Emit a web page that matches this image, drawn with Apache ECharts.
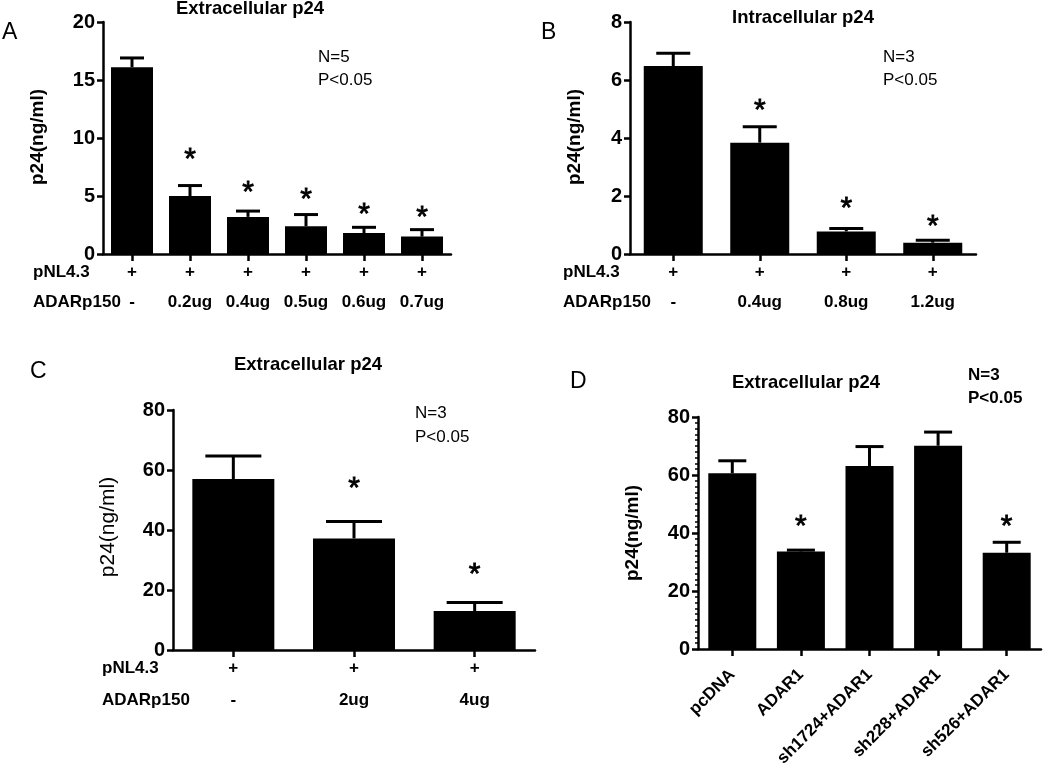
<!DOCTYPE html>
<html>
<head>
<meta charset="utf-8">
<script src="https://cdn.jsdelivr.net/npm/echarts@6/dist/echarts.min.js"></script>
<style>html,body{margin:0;padding:0;background:#fff;}#c{width:1050px;height:764px;}</style>
</head>
<body>
<div id="c"></div>
<script>
// ---------- Panel A: Extracellular p24 ----------
const catA = ['-', '0.2ug', '0.4ug', '0.5ug', '0.6ug', '0.7ug'];
const meanA = [16.1, 5.0, 3.2, 2.4, 1.8, 1.5];
const errTopA = [16.9, 5.9, 3.7, 3.4, 2.3, 2.1];
const starA = [null, 8.7, 5.9, 5.3, 4.0, 3.7];
// ---------- Panel B: Intracellular p24 ----------
const catB = ['-', '0.4ug', '0.8ug', '1.2ug'];
const meanB = [6.48, 3.84, 0.78, 0.39];
const errTopB = [6.92, 4.39, 0.88, 0.47];
const starB = [null, 5.17, 1.8, 1.17];
// ---------- Panel C: Extracellular p24 ----------
const catC = ['-', '2ug', '4ug'];
const meanC = [57, 37.2, 13];
const errTopC = [64.7, 42.8, 15.8];
const starC = [null, 56, 27.3];
// ---------- Panel D: Extracellular p24 ----------
const catD = ['pcDNA', 'ADAR1', 'sh1724+ADAR1', 'sh228+ADAR1', 'sh526+ADAR1'];
const meanD = [60.6, 33.6, 63.1, 70.1, 33.2];
const errTopD = [64.9, 34.1, 69.8, 74.8, 36.8];
const starD = [null, 44.5, null, null, 44.5];

const FONT = "'Liberation Sans', Arial, sans-serif";
const chart = echarts.init(document.getElementById('c'), null, {renderer: 'canvas'});

const grids = [
  {left: 103, top: 22, width: 348, height: 232},
  {left: 630, top: 22, width: 346, height: 232},
  {left: 173, top: 410, width: 362, height: 240},
  {left: 698, top: 417, width: 343, height: 232}
].map(g => Object.assign(g, {containLabel: false, outerBoundsMode: 'none'}));
const yCfg = [
  {min: 0, max: 20, interval: 5},
  {min: 0, max: 8, interval: 2},
  {min: 0, max: 80, interval: 20},
  {min: 0, max: 80, interval: 20}
];
const panels = [
  {cat: catA, mean: meanA, err: errTopA, star: starA, barW: 42, capW: 24},
  {cat: catB, mean: meanB, err: errTopB, star: starB, barW: 59, capW: 34},
  {cat: catC, mean: meanC, err: errTopC, star: starC, barW: 82, capW: 56},
  {cat: catD, mean: meanD, err: errTopD, star: starD, barW: 48, capW: 28}
];

const axisLineStyle = {color: '#000', width: 2.5};

const xAxes = panels.map((p, i) => {
  const base = {
    type: 'category', gridIndex: i, data: p.cat, boundaryGap: true,
    axisLine: {show: true, lineStyle: axisLineStyle},
    axisTick: {show: true, alignWithLabel: true, length: 7, lineStyle: {color: '#000', width: 2.5}},
    splitLine: {show: false}
  };
  if (i === 3) {
    base.axisLabel = {rotate: 45, margin: 23, color: '#000', fontFamily: FONT, fontWeight: 'bold', fontSize: 17, interval: 0};
  } else {
    const lh = i === 2 ? 32 : 30;
    base.axisLabel = {
      interval: 0, margin: i === 2 ? 2 : 3, color: '#000', fontFamily: FONT, fontWeight: 'bold', fontSize: 17,
      lineHeight: lh,
      formatter: v => '+\n' + v
    };
  }
  return base;
});

const yAxes = yCfg.map((c, i) => ({
  type: 'value', gridIndex: i, min: c.min, max: c.max, interval: c.interval,
  axisLine: {show: true, lineStyle: axisLineStyle},
  axisTick: {show: true, length: 6, lineStyle: {color: '#000', width: 2.5}},
  minorTick: i === 3 ? {show: true, splitNumber: 10, length: 3, lineStyle: {color: '#000', width: 1.5}} : {show: false},
  splitLine: {show: false},
  axisLabel: {margin: 8, color: '#000', fontFamily: FONT, fontWeight: 'bold', fontSize: 20}
}));

const series = [];
panels.forEach((p, i) => {
  series.push({
    type: 'bar', xAxisIndex: i, yAxisIndex: i, data: p.mean, barWidth: p.barW,
    itemStyle: {color: '#000'}, z: 2, silent: true
  });
  const capW = p.capW;
  series.push({
    type: 'custom', xAxisIndex: i, yAxisIndex: i, z: 3, silent: true,
    data: p.mean.map((m, k) => [k, m, p.err[k]]),
    renderItem: (params, api) => {
      const x = api.value(0), m = api.value(1), t = api.value(2);
      const p0 = api.coord([x, m]);
      const p1 = api.coord([x, t]);
      const hw = capW / 2;
      return {
        type: 'group',
        children: [
          {type: 'line', shape: {x1: p0[0], y1: p0[1], x2: p1[0], y2: p1[1]}, style: {stroke: '#000', lineWidth: 3}},
          {type: 'line', shape: {x1: p1[0] - hw, y1: p1[1], x2: p1[0] + hw, y2: p1[1]}, style: {stroke: '#000', lineWidth: 3}}
        ]
      };
    }
  });
  // significance asterisks
  series.push({
    type: 'custom', xAxisIndex: i, yAxisIndex: i, z: 4, silent: true,
    data: p.star.map((s, k) => s == null ? null : [k, s]).filter(d => d),
    renderItem: (params, api) => {
      const pt = api.coord([api.value(0), api.value(1)]);
      return {
        type: 'text', x: pt[0], y: pt[1] + 7,
        style: {text: '*', fill: '#000', font: 'normal 30px ' + FONT, textAlign: 'center', textVerticalAlign: 'middle',
                stroke: '#000', lineWidth: 0.8}
      };
    }
  });
});

function txt(x, y, text, opts) {
  return {
    type: 'text', x: x, y: y, rotation: (opts && opts.rot) || 0, silent: true,
    style: {
      text: text, fill: '#000', font: ((opts && opts.weight) || 'normal') + ' ' + ((opts && opts.size) || 16) + 'px ' + FONT,
      textAlign: (opts && opts.align) || 'left', textVerticalAlign: 'middle'
    }
  };
}

const graphic = [
  // Panel A
  txt(2, 33, 'A', {size: 23}),
  txt(250, 9, 'Extracellular p24', {weight: 'bold', size: 18.5, align: 'center'}),
  txt(318, 57, 'N=5', {size: 17}),
  txt(318, 80, 'P<0.05', {size: 17}),
  txt(38, 137, 'p24(ng/ml)', {weight: 'bold', size: 19, align: 'center', rot: Math.PI / 2}),
  txt(33, 272, 'pNL4.3', {weight: 'bold', size: 17}),
  txt(33, 302, 'ADARp150', {weight: 'bold', size: 17}),
  // Panel B
  txt(541, 33, 'B', {size: 23}),
  txt(803, 18, 'Intracellular p24', {weight: 'bold', size: 18.5, align: 'center'}),
  txt(883, 57, 'N=3', {size: 17}),
  txt(883, 80, 'P<0.05', {size: 17}),
  txt(575, 137, 'p24(ng/ml)', {weight: 'bold', size: 19, align: 'center', rot: Math.PI / 2}),
  txt(563, 272, 'pNL4.3', {weight: 'bold', size: 17}),
  txt(563, 302, 'ADARp150', {weight: 'bold', size: 17}),
  // Panel C
  txt(30, 372, 'C', {size: 23}),
  txt(308, 365, 'Extracellular p24', {weight: 'bold', size: 18.5, align: 'center'}),
  txt(415, 413, 'N=3', {size: 17}),
  txt(415, 437, 'P<0.05', {size: 17}),
  txt(108, 527, 'p24(ng/ml)', {size: 21, align: 'center', rot: Math.PI / 2}),
  txt(102, 668, 'pNL4.3', {weight: 'bold', size: 17}),
  txt(102, 700, 'ADARp150', {weight: 'bold', size: 17}),
  // Panel D
  txt(570, 382, 'D', {size: 23}),
  txt(806, 383, 'Extracellular p24', {weight: 'bold', size: 18.5, align: 'center'}),
  txt(968, 375, 'N=3', {weight: 'bold', size: 17}),
  txt(968, 398, 'P<0.05', {weight: 'bold', size: 17}),
  txt(633, 533, 'p24(ng/ml)', {weight: 'bold', size: 19, align: 'center', rot: Math.PI / 2})
];

chart.setOption({
  backgroundColor: '#fff',
  animation: false,
  grid: grids,
  xAxis: xAxes,
  yAxis: yAxes,
  series: series,
  graphic: graphic
});
</script>
</body>
</html>
